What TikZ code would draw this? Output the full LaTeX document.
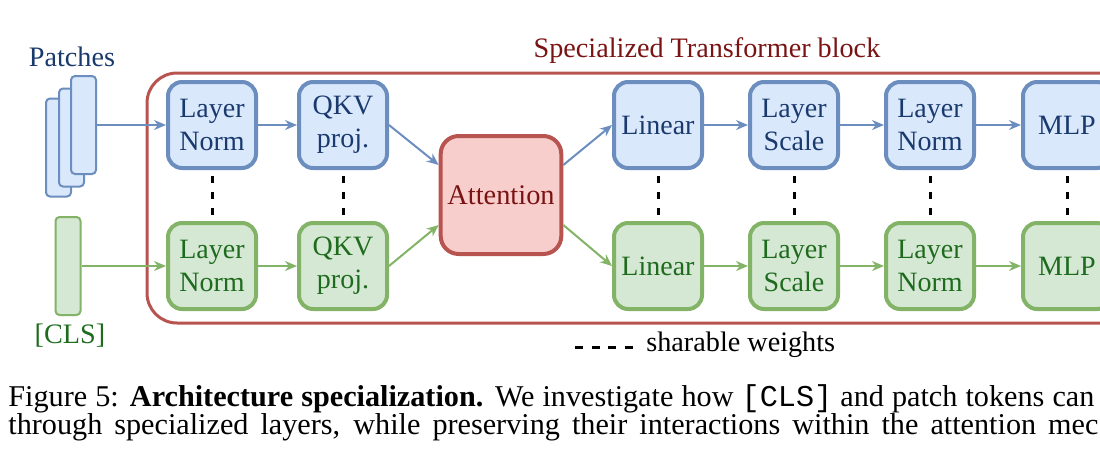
\documentclass[tikz,border=0pt]{standalone}
\usepackage{fontspec}
\setmainfont{Liberation Serif}
\setmonofont{Liberation Mono}
\usepackage{tikz}
\usetikzlibrary{positioning,calc,arrows.meta}
\usepackage{xcolor}

\definecolor{pfill}{HTML}{DAE8FC}
\definecolor{pline}{HTML}{6C8EBF}
\definecolor{ptext}{HTML}{1A3A6E}
\definecolor{cfill}{HTML}{D5E8D4}
\definecolor{cline}{HTML}{82B366}
\definecolor{ctext}{HTML}{1E6B1E}
\definecolor{afill}{HTML}{F8CECC}
\definecolor{aline}{HTML}{B85450}
\definecolor{atext}{HTML}{7A1414}

\begin{document}
\begin{tikzpicture}[x=0.5pt,y=-0.5pt,
    font=\fontsize{14.1}{17}\selectfont,
    pblk/.style={rectangle,rounded corners=7pt,draw=pline,fill=pfill,text=ptext,line width=2pt,minimum width=44pt,minimum height=43pt,align=center,inner sep=1pt,font=\fontsize{14}{16.5}\selectfont},
    cblk/.style={rectangle,rounded corners=7pt,draw=cline,fill=cfill,text=ctext,line width=2pt,minimum width=44pt,minimum height=43pt,align=center,inner sep=1pt,font=\fontsize{14}{16.5}\selectfont},
    ablk/.style={rectangle,rounded corners=9pt,draw=aline,fill=afill,text=atext,line width=2pt,minimum width=60pt,minimum height=59pt,align=center,font=\fontsize{14.2}{16.5}\selectfont},
    ptok/.style={rectangle,rounded corners=2pt,draw=pline,fill=pfill,line width=1pt,minimum width=12.5pt,minimum height=49pt,inner sep=0pt},
    ctok/.style={rectangle,rounded corners=2pt,draw=cline,fill=cfill,line width=1pt,minimum width=12.5pt,minimum height=49pt,inner sep=0pt},
    parr/.style={-{Stealth[length=6pt,width=5pt]},draw=pline,line width=1pt},
    carr/.style={-{Stealth[length=6pt,width=5pt]},draw=cline,line width=1pt},
    share/.style={draw=black,line width=1.5pt,dash pattern=on 3.5pt off 4.5pt},
    capline/.style={anchor=base west,inner sep=0pt,font=\fontsize{15.1}{17}\selectfont}]

\useasboundingbox (0,0) rectangle (1100,468);
\clip (0,0) rectangle (1100,468);

% block frame
\draw[draw=aline,line width=1.5pt,rounded corners=15pt] (147,73) rectangle (1140,323);
\node[text=atext] (title) at (707,51) {Specialized Transformer block};

% inputs
\node[ptok] (tok3) at (58.5,147.5) {};
\node[ptok] (tok2) at (71.5,137.5) {};
\node[ptok] (tok1) at (83.5,125) {};
\node[text=ptext] (patches) at (72,57) {Patches};
\node[ctok] (cls) at (68,266) {};
\node[text=ctext] (clslbl) at (70,336) {[CLS]};

% patch branch
\node[pblk] (pln1) at (212,125) {Layer\\Norm};
\node[pblk] (pqkv) at (343,125) {QKV\\proj.};
\node[pblk] (plin) at (658,125) {Linear};
\node[pblk] (pls) at (794,125) {Layer\\Scale};
\node[pblk] (pln2) at (930,125) {Layer\\Norm};
\node[pblk] (pmlp) at (1067,125) {MLP};

% cls branch
\node[cblk] (cln1) at (212,266) {Layer\\Norm};
\node[cblk] (cqkv) at (343,266) {QKV\\proj.};
\node[cblk] (clin) at (658,266) {Linear};
\node[cblk] (cls2) at (794,266) {Layer\\Scale};
\node[cblk] (cln2) at (930,266) {Layer\\Norm};
\node[cblk] (cmlp) at (1067,266) {MLP};

\node[ablk] (attn) at (501,195) {Attention};

\draw[parr] (tok1.east) -- (pln1.west);
\draw[parr] (pln1) -- (pqkv);
\draw[parr] (pqkv.east) -- ([yshift=15pt]attn.west);
\draw[parr] ([yshift=15pt]attn.east) -- (plin.west);
\draw[parr] (plin) -- (pls);
\draw[parr] (pls) -- (pln2);
\draw[parr] (pln2) -- (pmlp);

\draw[carr] (cls.east) -- (cln1.west);
\draw[carr] (cln1) -- (cqkv);
\draw[carr] (cqkv.east) -- ([yshift=-15pt]attn.west);
\draw[carr] ([yshift=-15pt]attn.east) -- (clin.west);
\draw[carr] (clin) -- (cls2);
\draw[carr] (cls2) -- (cln2);
\draw[carr] (cln2) -- (cmlp);

% sharable weights
\draw[share] ([yshift=-3pt]pln1.south) -- ([yshift=3pt]cln1.north);
\draw[share] ([yshift=-3pt]pqkv.south) -- ([yshift=3pt]cqkv.north);
\draw[share] ([yshift=-3pt]plin.south) -- ([yshift=3pt]clin.north);
\draw[share] ([yshift=-3pt]pls.south) -- ([yshift=3pt]cls2.north);
\draw[share] ([yshift=-3pt]pln2.south) -- ([yshift=3pt]cln2.north);
\draw[share] ([yshift=-3pt]pmlp.south) -- ([yshift=3pt]cmlp.north);

\coordinate (legA) at (575,347);
\coordinate (legB) at (634,347);
\draw[share,dash pattern=on 4pt off 4.3pt] (legA) -- (legB);
\node[anchor=west,inner sep=0pt] (leglbl) at (646,345) {sharable weights};

% caption
\node[capline] (cap1) at (8,406)
  {\makebox[543pt][s]{Figure 5: \textbf{Architecture specialization.} We investigate how \texttt{[CLS]} and patch tokens can}};
\node[capline] (cap2) at (8,434)
  {\makebox[545pt][s]{through specialized layers, while preserving their interactions within the attention mec}};

\end{tikzpicture}
\end{document}
